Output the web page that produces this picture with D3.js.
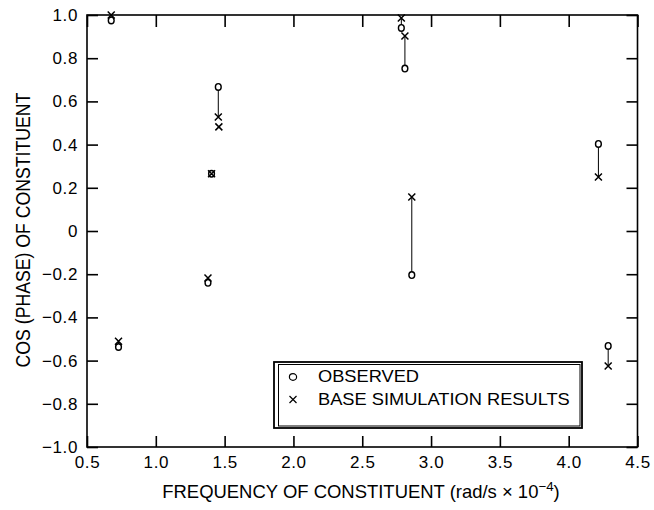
<!DOCTYPE html>
<html><head><meta charset="utf-8">
<script src="https://cdn.jsdelivr.net/npm/d3@7"></script>
<style>
html,body{margin:0;padding:0;background:#fff;}
svg{display:block;}
text{font-family:"Liberation Sans",Arial,Helvetica,sans-serif;fill:#000;}
</style></head>
<body>
<svg id="chart" width="654" height="510"></svg>
<script>
// Frequencies of tidal constituents (rad/s x 1e-4)
const freq      = [0.676, 0.729, 1.379, 1.405, 1.454, 1.458, 2.784, 2.810, 2.860, 4.216, 4.287];
const observed  = [0.975, -0.537, -0.240, 0.265, 0.667, null, 0.940, 0.752, -0.204, 0.403, -0.532];
const simulated = [1.000, -0.510, -0.218, 0.265, 0.528, 0.482, 0.986, 0.903, 0.157, 0.250, -0.625];
const xTicks = [0.5, 1.0, 1.5, 2.0, 2.5, 3.0, 3.5, 4.0, 4.5];
const yTicks = [-1.0, -0.8, -0.6, -0.4, -0.2, 0, 0.2, 0.4, 0.6, 0.8, 1.0];
const legendLabels = ["OBSERVED", "BASE SIMULATION RESULTS"];

const svg = d3.select("#chart");
const L = 87, R = 637.5, T = 15, B = 447;
const x = d3.scaleLinear().domain([0.5, 4.5]).range([L, R]);
const y = d3.scaleLinear().domain([-1, 1]).range([B, T]);

const fmtY = d => d === 0 ? "0" : d3.format(".1f")(d);
const fmtX = d3.format(".1f");

function styleAxis(g, fs) {
  g.select(".domain").remove();
  g.selectAll(".tick line").attr("stroke", "#000").attr("stroke-width", 1.6);
  g.selectAll(".tick text").attr("font-size", fs).attr("fill", "#000")
    .attr("letter-spacing", 0.6)
    .style("font-family", '"Liberation Sans",Arial,Helvetica,sans-serif');
}

// bottom axis
svg.append("g").attr("transform", `translate(0,${B})`)
  .call(d3.axisBottom(x).tickValues(xTicks).tickFormat(fmtX).tickSizeInner(-11).tickSizeOuter(0).tickPadding(9))
  .call(g => styleAxis(g, 17));
// top axis
svg.append("g").attr("transform", `translate(0,${T})`)
  .call(d3.axisTop(x).tickValues(xTicks).tickFormat("").tickSizeInner(-12).tickSizeOuter(0))
  .call(g => styleAxis(g, 17));
// left axis
svg.append("g").attr("transform", `translate(${L},0)`)
  .call(d3.axisLeft(y).tickValues(yTicks).tickFormat(fmtY).tickSizeInner(-11).tickSizeOuter(0).tickPadding(9))
  .call(g => styleAxis(g, 17));
// right axis
svg.append("g").attr("transform", `translate(${R},0)`)
  .call(d3.axisRight(y).tickValues(yTicks).tickFormat("").tickSizeInner(-11).tickSizeOuter(0))
  .call(g => styleAxis(g, 17));

// frame
svg.append("rect").attr("x", L).attr("y", T).attr("width", R - L).attr("height", B - T)
  .attr("fill", "none").attr("stroke", "#000").attr("stroke-width", 1.6);

// data
const pts = freq.map((f, i) => ({f, o: observed[i], s: simulated[i]}));
const g = svg.append("g");
g.selectAll("line.conn").data(pts.filter(d => d.o !== null && d.s !== null)).join("line")
  .attr("class", "conn")
  .attr("x1", d => x(d.f)).attr("x2", d => x(d.f))
  .attr("y1", d => y(d.o)).attr("y2", d => y(d.s))
  .attr("stroke", "#000").attr("stroke-width", 1);

g.selectAll("ellipse.obs").data(pts.filter(d => d.o !== null)).join("ellipse")
  .attr("class", "obs")
  .attr("cx", d => x(d.f)).attr("cy", d => y(d.o)).attr("rx", 2.9).attr("ry", 3.3)
  .attr("fill", "#fff").attr("stroke", "#000").attr("stroke-width", 1.4);

const cross = (sel, s) => sel.attr("d", d => {
  const cx = x(d.f), cy = y(d.s);
  return `M${cx - s},${cy - s}L${cx + s},${cy + s}M${cx - s},${cy + s}L${cx + s},${cy - s}`;
});
g.selectAll("path.sim").data(pts.filter(d => d.s !== null)).join("path")
  .attr("class", "sim").call(cross, 3.5)
  .attr("fill", "none").attr("stroke", "#000").attr("stroke-width", 1.5);

// fit text to width helper
function fitWidth(t, w, cx) {
  const bw = t.node().getComputedTextLength();
  const k = w / bw;
  t.attr("transform", `translate(${cx},0) scale(${k},1) translate(${-cx},0)`);
  return k;
}

// legend
const lg = svg.append("g");
lg.append("rect").attr("x", 274).attr("y", 362).attr("width", 308).attr("height", 66)
  .attr("fill", "#fff").attr("stroke", "#000").attr("stroke-width", 1.8);
lg.append("rect").attr("x", 278.5).attr("y", 364.5).attr("width", 301.5).attr("height", 61.5)
  .attr("fill", "none").attr("stroke", "#000").attr("stroke-width", 1);
lg.append("ellipse").attr("cx", 293).attr("cy", 377).attr("rx", 3.6).attr("ry", 3.4)
  .attr("fill", "none").attr("stroke", "#000").attr("stroke-width", 1.2);
lg.append("path").attr("d", "M289.5,396L296.5,403M289.5,403L296.5,396")
  .attr("stroke", "#000").attr("stroke-width", 1.2);
const lt1 = lg.append("text").attr("x", 318).attr("y", 382).attr("font-size", 17).text(legendLabels[0]);
const lt2 = lg.append("text").attr("x", 318).attr("y", 405).attr("font-size", 17).text(legendLabels[1]);
const k2 = fitWidth(lt2, 252, 318);
lt1.attr("transform", `translate(318,0) scale(${k2},1) translate(-318,0)`);

// axis titles
const xt = svg.append("text").attr("x", 361).attr("y", 498).attr("text-anchor", "middle").attr("font-size", 18);
xt.append("tspan").text("FREQUENCY OF CONSTITUENT (rad/s \u00D7 10");
xt.append("tspan").attr("font-size", 13).attr("dy", -7).text("\u22124");
xt.append("tspan").attr("dy", 7).text(")");
fitWidth(xt, 398, 361);

const ytG = svg.append("g").attr("transform", "translate(30,230) rotate(-90)");
const yt = ytG.append("text").attr("x", 0).attr("y", 0).attr("text-anchor", "middle").attr("font-size", 20)
  .text("COS (PHASE) OF CONSTITUENT");
fitWidth(yt, 275, 0);
</script>
</body></html>
